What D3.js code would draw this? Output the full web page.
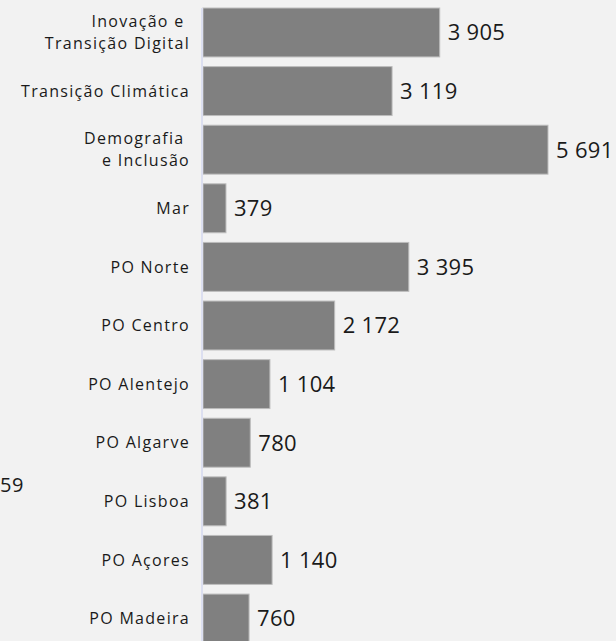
<!DOCTYPE html>
<html>
<head>
<meta charset="utf-8">
<script src="https://cdn.jsdelivr.net/npm/d3@7"></script>
<style>
    body { margin: 0; background: #f2f2f2; }
    text { font-family: "Open Sans", sans-serif; fill: #1a1a1a; }
</style>
</head>
<body>
<div id="chart"></div>
<script>
// data
const categories = ["Inovação e |Transição Digital", "Transição Climática", "Demografia |e Inclusão", "Mar",
    "PO Norte", "PO Centro", "PO Alentejo", "PO Algarve", "PO Lisboa", "PO Açores", "PO Madeira"]
const values = [3905, 3119, 5691, 379, 3395, 2172, 1104, 780, 381, 1140, 760]
const strayLabel = "59" // cut-off number at the left edge

const width = 616
const height = 641

const svg = d3.select('#chart')
    .append('svg')
    .attr('width', width)
    .attr('height', height)
    .style('background', '#f2f2f2')

const xScale = d3.scaleLinear().domain([0, 5691]).range([203, 548])
const yScale = d3.scaleBand()
    .domain(categories)
    .range([8, 643])
    .paddingInner(0.165)
    .paddingOuter(0)

const fmt = v => d3.format(',')(v).replace(/,/g, ' ')

// bars
svg.selectAll('rect.bar')
    .data(values)
    .enter()
    .append('rect')
    .attr('class', 'bar')
    .attr('x', xScale(0))
    .attr('y', (d, i) => yScale(categories[i]))
    .attr('width', d => xScale(d) - xScale(0))
    .attr('height', yScale.bandwidth())
    .style('fill', '#808080')
    .attr('stroke', '#bdbdbd')
    .attr('stroke-width', 1)

// axis line
svg.append('line')
    .attr('x1', xScale(0) - 1)
    .attr('x2', xScale(0) - 1)
    .attr('y1', 8)
    .attr('y2', height)
    .attr('stroke', '#dcdff0')
    .attr('stroke-width', 2)

// value labels
svg.selectAll('text.value')
    .data(values)
    .enter()
    .append('text')
    .attr('class', 'value')
    .attr('x', d => xScale(d) + 8)
    .attr('y', (d, i) => yScale(categories[i]) + yScale.bandwidth() / 2)
    .attr('dy', '0.36em')
    .style('font-size', '22px')
    .style('letter-spacing', '0.3px')
    .text(d => fmt(d))

// category labels, split on |
const cat = svg.selectAll('text.cat')
    .data(categories)
    .enter()
    .append('text')
    .attr('class', 'cat')
    .attr('text-anchor', 'end')
    .attr('xml:space', 'preserve')
    .style('white-space', 'pre')
    .style('font-size', '16px')
    .style('letter-spacing', '1.3px')
    .attr('transform', d => `translate(190, ${yScale(d) + yScale.bandwidth() / 2})`)

cat.each(function (d) {
    const lines = d.split('|')
    const t = d3.select(this)
    lines.forEach((line, j) => {
        t.append('tspan')
            .attr('x', 0)
            .attr('y', (j - (lines.length - 1) / 2) * 22)
            .attr('dy', '0.36em')
            .text(line)
    })
})

svg.append('text')
    .attr('x', 24)
    .attr('y', 492)
    .attr('text-anchor', 'end')
    .style('font-size', '20px')
    .style('letter-spacing', '0.6px')
    .text(strayLabel)
</script>
</body>
</html>
